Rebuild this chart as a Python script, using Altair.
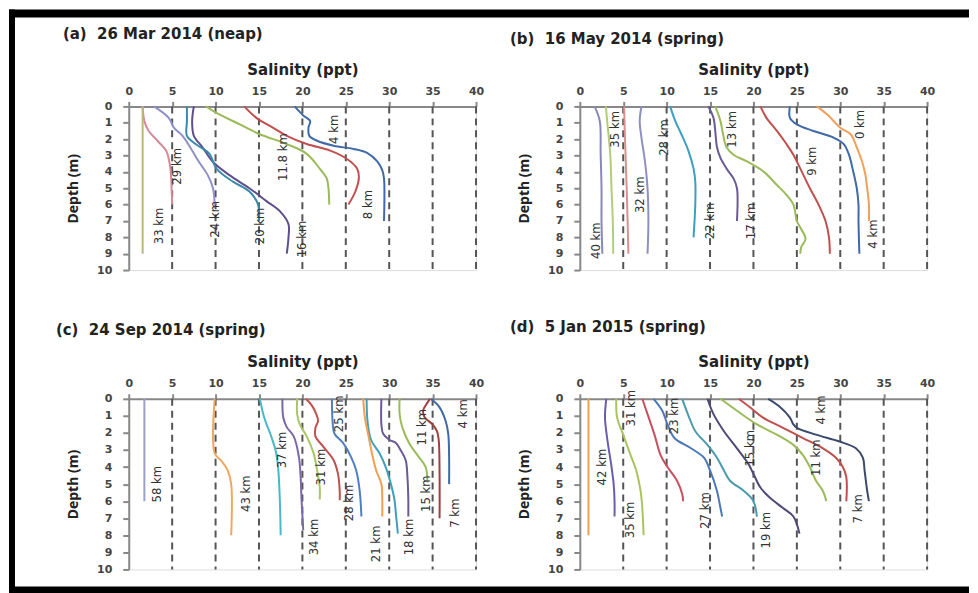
import altair as alt
import pandas as pd

# ---------------- axes ----------------
SAL_TICKS = [0, 5, 10, 15, 20, 25, 30, 35, 40]
DEPTH_TICKS = [0, 1, 2, 3, 4, 5, 6, 7, 8, 9, 10]
GRID_SAL = [5, 10, 15, 20, 25, 30, 35, 40]

# ---------------- panel (a) 26 Mar 2014 (neap) ----------------
A_TITLE = "(a)\u00a0 26 Mar 2014 (neap)"
a_4km = [(0, 19.1), (0.55, 20.1), (0.9, 20.9), (1.3, 20.7), (1.8, 20.8), (2.1, 21.7), (2.4, 23.6),
         (2.6, 25.9), (2.85, 27.5), (3.35, 28.6), (3.9, 29.2), (4.4, 29.4), (7, 29.4)]
a_8km = [(0, 13.3), (0.7, 14.7), (1.3, 16.6), (1.8, 18.2), (2.3, 20.5), (2.7, 23.2), (3.2, 25.1),
         (3.8, 26.3), (4.4, 26.5), (5.2, 26.1), (6.0, 25.3)]
a_11_8km = [(0, 8.9), (0.4, 10.1), (1.1, 12.8), (1.7, 15.1), (2.3, 18.2), (2.9, 20.5), (3.8, 22.0),
            (4.4, 22.8), (5, 23.0), (6, 23.1)]
a_16km = [(0, 7.5), (0.9, 7.3), (1.8, 7.5), (2.5, 8.5), (3.4, 9.7), (4.2, 11.6), (5, 13.9),
          (5.8, 15.9), (6.4, 17.4), (7.2, 18.4), (8, 18.4), (9, 18.2)]
a_20km = [(0, 6.7), (0.9, 6.7), (1.8, 6.7), (2.3, 7.7), (2.9, 9.3), (3.8, 10.1), (4.6, 12.0),
          (5.2, 13.9), (6, 14.9), (7, 15.0)]
a_24km = [(0, 2.9), (0.7, 4.6), (1.3, 5.2), (1.8, 6.2), (2.7, 7.3), (3.4, 8.1), (4.2, 9.1),
          (5, 9.7), (6, 9.9)]
a_29km = [(0, 1.6), (0.9, 1.8), (1.5, 2.3), (2.1, 3.3), (2.7, 4.3), (3.2, 4.6), (3.8, 4.8),
          (4.6, 4.9), (6, 5.0)]
a_33km = [(0, 1.6), (9, 1.6)]
A_PROFILES = [("4 km", a_4km), ("8 km", a_8km), ("11.8 km", a_11_8km), ("16 km", a_16km),
              ("20 km", a_20km), ("24 km", a_24km), ("29 km", a_29km), ("33 km", a_33km)]
A_COLORS = ["#3f6aa6", "#c0504d", "#9bbb59", "#5e4f8c", "#3a8bab", "#8f90c8", "#d48a98", "#b8b87a"]
A_LABELS = [("4 km", 23.6, 1.4), ("8 km", 27.6, 6.0), ("11.8 km", 17.8, 3.1), ("16 km", 19.9, 8.1),
            ("20 km", 15.1, 7.3), ("24 km", 9.9, 6.9), ("29 km", 5.6, 3.66), ("33 km", 3.5, 7.3)]

# ---------------- panel (b) 16 May 2014 (spring) ----------------
B_TITLE = "(b)\u00a0 16 May 2014 (spring)"
b_0km = [(0, 27.3), (0.5, 28.5), (1.3, 30.0), (1.7, 31.2), (2.5, 31.9), (3.35, 32.5), (4.2, 32.9),
         (5, 33.1), (6, 33.3), (7, 33.3)]
b_4km = [(0, 24.2), (0.7, 24.2), (1.1, 25.0), (1.5, 26.9), (1.9, 29.2), (2.3, 30.4), (2.95, 31.0),
         (4, 31.5), (5, 31.9), (6, 32.1), (7, 32.1), (9, 32.2)]
b_9km = [(0, 20.8), (0.7, 21.5), (1.5, 22.7), (2.3, 23.8), (2.95, 24.6), (3.8, 25.4), (5, 26.5),
         (6, 27.5), (7, 28.3), (8, 28.7), (9, 28.8)]
b_13km = [(0, 15.6), (0.9, 16.2), (1.7, 16.5), (2.5, 16.9), (2.95, 17.7), (3.35, 19.2), (4, 21.2),
          (4.8, 22.7), (5.4, 23.8), (6, 24.6), (7, 25.0), (7.4, 25.4), (8.1, 26.0), (8.6, 25.5),
          (9, 25.4)]
b_17km = [(0, 14.8), (0.7, 15.4), (1.5, 15.6), (2.5, 15.8), (3.15, 16.2), (3.8, 16.9), (4.4, 17.7),
          (5, 18.1), (7, 18.1)]
b_22km = [(0, 10.4), (0.9, 11.0), (1.7, 11.7), (2.7, 12.5), (3.8, 13.1), (4.6, 13.3), (6, 13.3),
          (8, 13.1)]
b_28km = [(0, 7.1), (0.9, 6.9), (1.9, 7.1), (3.35, 7.5), (5, 7.8), (7, 7.9), (9, 7.8)]
b_32km = [(0, 5.1), (1.9, 5.2), (5, 5.4), (9, 5.6)]
b_35km = [(0, 3.0), (0.9, 3.15), (2.9, 3.5), (5, 3.65), (7, 3.8), (9, 3.85)]
b_40km = [(0, 1.7), (0.9, 2.3), (2.9, 2.4), (5, 2.5), (7, 2.5), (9, 2.6)]
B_PROFILES = [("0 km", b_0km), ("4 km", b_4km), ("9 km", b_9km), ("13 km", b_13km),
              ("17 km", b_17km), ("22 km", b_22km), ("28 km", b_28km), ("32 km", b_32km),
              ("35 km", b_35km), ("40 km", b_40km)]
B_COLORS = ["#f0a05a", "#3f6aa6", "#c0504d", "#9bbb59", "#6a5a96", "#3d9fc0", "#8f8fc0",
            "#d9908f", "#b3cc7a", "#8a88b8"]
B_LABELS = [("0 km", 32.3, 1.1), ("4 km", 33.8, 7.8), ("9 km", 26.8, 3.35), ("13 km", 17.5, 1.4),
            ("17 km", 19.7, 7.0), ("22 km", 15.0, 7.0), ("28 km", 9.7, 1.9), ("32 km", 6.9, 5.4),
            ("35 km", 4.0, 1.4), ("40 km", 1.9, 8.2)]

# ---------------- panel (c) 24 Sep 2014 (spring) ----------------
C_TITLE = "(c)\u00a0 24 Sep 2014 (spring)"
c_4km = [(0, 34.8), (0.5, 35.8), (1.3, 36.5), (2.05, 36.8), (3.4, 36.9), (5, 36.9)]
c_7km = [(0, 34.7), (0.3, 34.3), (0.7, 33.9), (1.1, 34.1), (1.5, 35.0), (1.9, 35.5), (2.4, 35.7),
         (4.4, 35.8), (7, 35.8)]
c_11km = [(0, 31.2), (0.9, 31.2), (1.66, 31.5), (2.6, 32.3), (3.4, 33.4), (4, 34.2), (4.9, 34.4)]
c_15km = [(0, 29.1), (1.5, 29.1), (2.05, 29.3), (2.4, 30.0), (2.6, 30.8), (3, 31.3), (3.6, 31.9),
          (4.6, 32.1), (5.9, 32.2), (6.9, 32.2)]
c_18km = [(0, 27.4), (1.3, 27.5), (2.4, 27.9), (3.2, 28.9), (4, 29.6), (5, 30.2), (5.9, 30.6),
          (6.9, 30.8), (7.9, 31.0)]
c_21km = [(0, 27.0), (1.1, 27.2), (1.9, 27.5), (2.4, 27.7), (3.4, 28.1), (4.2, 28.5), (5, 29.1),
          (5.9, 29.2), (6.9, 29.2)]
c_25km = [(0, 23.4), (1.5, 23.5), (2.05, 23.7), (2.6, 24.7), (3.4, 25.6), (4.2, 26.2), (5.4, 26.6),
          (6.9, 26.8)]
c_28km = [(0, 20.4), (0.4, 21.1), (0.9, 21.6), (1.3, 21.8), (1.7, 21.5), (2.2, 21.5), (2.8, 22.4),
          (3.6, 23.6), (4.4, 24.1), (5.4, 24.3), (5.95, 24.3)]
c_31km = [(0, 19.4), (0.9, 19.4), (1.5, 19.7), (2.2, 20.5), (3.2, 21.3), (4.2, 21.7), (5.2, 22.0),
          (5.9, 22.0)]
c_34km = [(0, 17.7), (1.1, 17.8), (1.66, 18.2), (2.2, 19.0), (3.4, 19.6), (4.6, 19.8), (5.9, 19.9),
          (7.7, 20.1)]
c_37km = [(0, 15.1), (1.1, 15.6), (2.05, 16.3), (3.0, 16.9), (4.0, 17.2), (5.9, 17.4), (8, 17.5)]
c_43km = [(0, 9.9), (3.2, 9.9), (3.6, 10.6), (4.2, 11.4), (5, 11.8), (8, 11.8)]
c_58km = [(0, 1.8), (6, 1.8)]
C_PROFILES = [("4 km", c_4km), ("7 km", c_7km), ("11 km", c_11km), ("15 km", c_15km),
              ("18 km", c_18km), ("21 km", c_21km), ("25 km", c_25km), ("28 km", c_28km),
              ("31 km", c_31km), ("34 km", c_34km), ("37 km", c_37km), ("43 km", c_43km),
              ("58 km", c_58km)]
C_COLORS = ["#3f6aa6", "#a0403d", "#9bbb59", "#6a5a96", "#3fa0b8", "#f0a050", "#4f7fc0",
            "#c0504d", "#a8c866", "#7a68a8", "#4ab8c8", "#f0a860", "#9aa0c8"]
C_LABELS = [("4 km", 38.5, 0.88), ("7 km", 37.6, 6.7), ("11 km", 33.75, 1.66), ("15 km", 34.2, 5.56),
            ("18 km", 32.3, 8.1), ("21 km", 28.5, 8.5), ("25 km", 24.2, 0.88), ("28 km", 25.4, 6.1),
            ("31 km", 22.2, 4.0), ("34 km", 21.3, 8.1), ("37 km", 17.6, 3.0), ("43 km", 13.5, 5.56),
            ("58 km", 3.2, 5.0)]

# ---------------- panel (d) 5 Jan 2015 (spring) ----------------
D_TITLE = "(d)\u00a0 5 Jan 2015 (spring)"
d_4km = [(0, 21.7), (0.45, 23.0), (1.1, 24.2), (1.5, 24.6), (1.7, 25.0), (2.1, 27.2), (2.5, 29.9),
         (2.9, 31.8), (3.45, 32.6), (4.2, 32.8), (5.4, 33.1), (6, 33.3)]
d_7km = [(0, 18.3), (0.5, 19.6), (1.1, 21.1), (1.7, 23.4), (2.3, 25.7), (2.9, 28.0), (3.45, 29.5),
         (4, 30.3), (4.6, 30.7), (6, 30.7)]
d_11km = [(0, 16.2), (0.7, 18.1), (1.5, 20.4), (2.1, 22.7), (2.7, 24.6), (3.3, 25.7), (4, 26.5),
          (4.8, 27.2), (5.4, 28.0), (6, 28.4)]
d_15km = [(0, 14.7), (0.9, 15.4), (1.9, 16.6), (2.9, 18.1), (3.8, 19.4), (4.4, 20.0), (5.2, 20.8),
          (5.8, 21.9), (6.4, 23.4), (6.9, 24.6), (7.9, 25.3)]
d_19km = [(0, 11.8), (1.1, 12.6), (1.9, 13.3), (2.7, 14.7), (3.45, 15.8), (4.2, 16.6), (4.8, 17.3),
          (5.4, 18.9), (6, 20.0), (6.9, 20.4)]
d_23km = [(0, 8.5), (0.7, 9.5), (1.5, 10.1), (2.3, 10.9), (2.9, 12.8), (3.45, 14.3), (4.2, 15.0),
          (5.4, 15.8), (6.4, 16.2), (6.9, 16.4)]
d_27km = [(0, 7.2), (0.9, 7.8), (2.1, 8.6), (3.3, 9.3), (4, 10.1), (4.8, 11.2), (5.6, 11.8),
          (6, 11.9)]
d_31km = [(0, 4.2), (1.1, 4.3), (2.1, 5.0), (3.1, 5.7), (4.2, 6.5), (5.4, 7.0), (6.4, 7.2),
          (8, 7.35)]
d_35km = [(0, 3.05), (1.1, 2.9), (2.5, 3.2), (3.8, 3.6), (5, 3.9), (6, 4.0), (6.9, 4.0)]
d_42km = [(0, 1.0), (8, 1.0)]
D_PROFILES = [("4 km", d_4km), ("7 km", d_7km), ("11 km", d_11km), ("15 km", d_15km),
              ("19 km", d_19km), ("23 km", d_23km), ("27 km", d_27km), ("31 km", d_31km),
              ("35 km", d_35km), ("42 km", d_42km)]
D_COLORS = ["#3b4a6b", "#c0504d", "#9bbb59", "#4f4a7a", "#4a9ab0", "#4a78b8", "#c94f5f",
            "#a9c45e", "#6c5cb0", "#f0a050"]
D_LABELS = [("4 km", 27.8, 0.65), ("7 km", 32.0, 6.45), ("11 km", 27.2, 3.45), ("15 km", 19.6, 2.9),
            ("19 km", 21.5, 7.7), ("23 km", 10.9, 1.0), ("27 km", 14.4, 6.55), ("31 km", 5.9, 0.55),
            ("35 km", 5.8, 7.1), ("42 km", 2.55, 4.0)]

# ---------------- styling ----------------
WIDE_FONT = "DejaVu Sans"
YTITLE_FONT = "Open Sans"
LABEL_FONT = "Liberation Sans Narrow, DejaVu Sans Condensed, sans-serif"
PANEL_W = 348
TOP_H = 164
BOT_H = 171


def make_panel(title, profiles, colors, labels, h, title_dx, title_offset, title_dy=0, frame=False):
    rows = []
    for (name, pts), col in zip(profiles, colors):
        for i, (d, s) in enumerate(pts):
            rows.append({"station": name, "depth": d, "sal": s, "col": col, "i": i})
    lines_df = pd.DataFrame(rows)
    lab_df = pd.DataFrame([{"text": t, "sal": s, "depth": d} for t, s, d in labels])
    grid_df = pd.DataFrame({"sal": GRID_SAL})

    xs = alt.Scale(domain=[0, 40], nice=False, zero=False)
    ys = alt.Scale(domain=[0, 10], reverse=True, nice=False, zero=False)
    xaxis = alt.Axis(orient="top", values=SAL_TICKS, title="Salinity (ppt)", grid=False,
                     labelFont=WIDE_FONT, labelFontSize=11, labelFontWeight="bold", labelColor="#444",
                     labelPadding=5, tickSize=5, tickColor="#888", tickWidth=2,
                     domainColor="#888", domainWidth=2,
                     titleFont=WIDE_FONT, titleFontSize=15, titleFontWeight="bold", titleColor="#222",
                     titlePadding=8, labelFlush=False)
    yaxis = alt.Axis(orient="left", values=DEPTH_TICKS, title="Depth (m)", grid=False,
                     labelFont=WIDE_FONT, labelFontSize=11, labelFontWeight="bold", labelColor="#444",
                     labelPadding=11, tickSize=6, tickColor="#888", tickWidth=2,
                     domainColor="#888", domainWidth=2,
                     titleFont=YTITLE_FONT, titleFontSize=14, titleFontWeight="bold", titleColor="#222",
                     titlePadding=16, labelFlush=False)
    X = alt.X("sal:Q", scale=xs, axis=xaxis)
    Y = alt.Y("depth:Q", scale=ys, axis=yaxis)

    grid = alt.Chart(grid_df).mark_rule(strokeDash=[7, 5], color="#555", strokeWidth=2).encode(
        x=X, y=alt.value(0), y2=alt.value(h))
    lines = alt.Chart(lines_df).mark_line(strokeWidth=2, interpolate="catmull-rom").encode(
        x=X, y=Y, color=alt.Color("col:N", scale=None), detail="station:N", order="i:Q")
    texts = alt.Chart(lab_df).mark_text(angle=270, font=LABEL_FONT, fontSize=13, color="#333",
                                        align="center", baseline="middle").encode(
        x=X, y=Y, text="text:N")
    layers = [grid, lines, texts]
    if frame:
        one = pd.DataFrame({"k": [0]})
        black = dict(color="black", strokeWidth=0)
        left = alt.Chart(one).mark_rect(**black).encode(
            x=alt.value(-120), x2=alt.value(-114), y=alt.value(-97), y2=alt.value(488))
        top = alt.Chart(one).mark_rect(**black).encode(
            x=alt.value(-120), x2=alt.value(842), y=alt.value(-97), y2=alt.value(-89))
        bottom = alt.Chart(one).mark_rect(**black).encode(
            x=alt.value(-120), x2=alt.value(842), y=alt.value(481), y2=alt.value(488))
        layers += [left, top, bottom]
    return alt.layer(*layers).properties(
        width=PANEL_W, height=h,
        title=alt.TitleParams(title, anchor="start", frame="group", dx=title_dx, dy=title_dy,
                              offset=title_offset, font=WIDE_FONT, fontSize=15, fontWeight="bold",
                              color="#222"))


pa = make_panel(A_TITLE, A_PROFILES, A_COLORS, A_LABELS, TOP_H, -66, 18, title_dy=50, frame=True)
pb = make_panel(B_TITLE, B_PROFILES, B_COLORS, B_LABELS, TOP_H, -70, 16)
pc = make_panel(C_TITLE, C_PROFILES, C_COLORS, C_LABELS, BOT_H, -73, 17)
pd_ = make_panel(D_TITLE, D_PROFILES, D_COLORS, D_LABELS, BOT_H, -70, 20)

chart = alt.concat(pa, pb, pc, pd_, columns=2, spacing={"row": 129, "column": 104},
                   bounds="flush", align="each", padding=0).configure_view(
    stroke="#888", strokeWidth=2).configure(background="white")

chart.save("out.html", embed_options={"renderer": "svg", "actions": False})
